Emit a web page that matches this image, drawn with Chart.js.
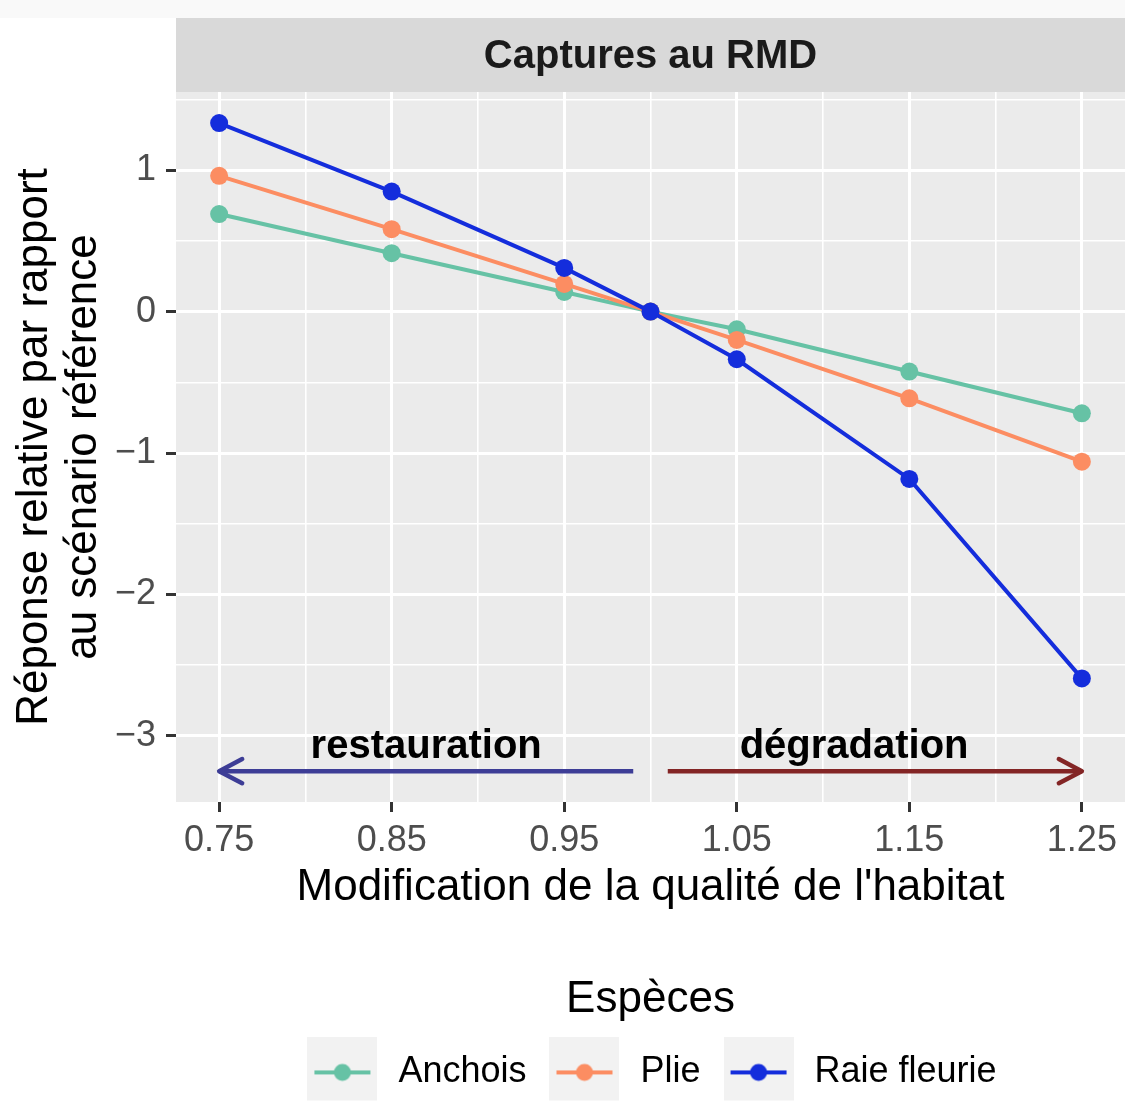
<!DOCTYPE html>
<html>
<head>
<meta charset="utf-8">
<script src="https://cdn.jsdelivr.net/npm/chart.js@4"></script>
<style>
  html, body { margin: 0; padding: 0; background: #ffffff; overflow: hidden; }
  canvas { display: block; }
</style>
</head>
<body>
<canvas id="chart" width="1125" height="1102"></canvas>
<script>
// habitat quality multipliers (x) and responses per species (y)
const habitat = [0.75, 0.85, 0.95, 1.00, 1.05, 1.15, 1.25];
const anchois = [0.69, 0.413, 0.139, 0, -0.125, -0.424, -0.719];
const plie = [0.96, 0.583, 0.196, 0, -0.2, -0.613, -1.061];
const raie = [1.333, 0.849, 0.309, 0, -0.337, -1.183, -2.594];
const speciesNames = ["Anchois", "Plie", "Raie fleurie"];

// axis ticks (majors get labels, the rest are minor grid lines)
const xTicks = [0.75, 0.80, 0.85, 0.90, 0.95, 1.00, 1.05, 1.10, 1.15, 1.20, 1.25];
const xMajor = [0.75, 0.85, 0.95, 1.05, 1.15, 1.25];
const yTicks = [-3, -2.5, -2, -1.5, -1, -0.5, 0, 0.5, 1, 1.5];
const yMajor = [-3, -2, -1, 0, 1];

// arrow annotations, in data units
const arrowLabels = ["restauration", "dégradation"];
const arrowFrom = [0.99, 1.01];
const arrowTo = [0.75, 1.25];
const arrowY = -3.25;
const labelX = [0.87, 1.118];
const labelY = -3.16;

const colors = ["#66C2A5", "#FC8D62", "#142DDC"];
const arrowColors = ["#3D3D96", "#832525"];
const FONT = "'Liberation Sans', Arial, sans-serif";

const isMajor = (list, v) => list.some(m => Math.abs(m - v) < 1e-6);
const fmtY = v => (v < 0 ? "\u2212" + Math.abs(v) : String(v));

const toPoints = ys => habitat.map((x, i) => ({ x: x, y: ys[i] }));

// legend keys: grey square with line + dot, like ggplot
function makeKey(color) {
  const c = document.createElement("canvas");
  c.width = 70;
  c.height = 70;
  const g = c.getContext("2d");
  g.fillStyle = "#F2F2F2";
  g.fillRect(0, 0, 70, 70);
  g.strokeStyle = color;
  g.lineWidth = 4;
  g.beginPath();
  g.moveTo(7, 35);
  g.lineTo(63, 35);
  g.stroke();
  g.fillStyle = color;
  g.beginPath();
  g.arc(35, 35, 8.5, 0, Math.PI * 2);
  g.fill();
  return c;
}
const keys = colors.map(makeKey);

const panelPlugin = {
  id: "panel",
  beforeDraw(chart) {
    const { ctx, chartArea } = chart;
    ctx.save();
    ctx.fillStyle = "#F9F9F9";
    ctx.fillRect(0, 0, chart.width, 18);
    ctx.fillStyle = "#D9D9D9";
    ctx.fillRect(chartArea.left, 18, chartArea.right - chartArea.left, chartArea.top - 18);
    ctx.fillStyle = "#EBEBEB";
    ctx.fillRect(chartArea.left, chartArea.top, chartArea.right - chartArea.left, chartArea.bottom - chartArea.top);
    ctx.restore();
  },
  afterDatasetsDraw(chart) {
    const { ctx } = chart;
    const xs = chart.scales.x;
    const ys = chart.scales.y;
    ctx.save();
    const yPix = ys.getPixelForValue(arrowY);
    arrowLabels.forEach((label, i) => {
      const x1 = xs.getPixelForValue(arrowFrom[i]);
      const x2 = xs.getPixelForValue(arrowTo[i]);
      const dir = x2 > x1 ? 1 : -1;
      ctx.strokeStyle = arrowColors[i];
      ctx.lineWidth = 4.5;
      ctx.lineCap = "butt";
      ctx.beginPath();
      ctx.moveTo(x1, yPix);
      ctx.lineTo(x2, yPix);
      ctx.stroke();
      const len = 26, ang = Math.PI / 6.5;
      ctx.lineCap = "round";
      ctx.lineJoin = "round";
      ctx.beginPath();
      ctx.moveTo(x2 - dir * len * Math.cos(ang), yPix - len * Math.sin(ang));
      ctx.lineTo(x2, yPix);
      ctx.lineTo(x2 - dir * len * Math.cos(ang), yPix + len * Math.sin(ang));
      ctx.stroke();

      ctx.fillStyle = "#000000";
      ctx.font = "bold 40px " + FONT;
      ctx.textAlign = "center";
      ctx.textBaseline = "alphabetic";
      ctx.fillText(label, xs.getPixelForValue(labelX[i]), ys.getPixelForValue(labelY));
    });
    ctx.restore();
  }
};

const chart = new Chart(document.getElementById("chart"), {
  type: "line",
  data: {
    datasets: [anchois, plie, raie].map((ys, i) => ({
      label: speciesNames[i],
      data: toPoints(ys),
      borderColor: colors[i],
      backgroundColor: colors[i],
      pointBackgroundColor: colors[i],
      pointBorderWidth: 0,
      pointRadius: 9,
      borderWidth: 4,
      tension: 0,
      order: 2 - i
    }))
  },
  options: {
    responsive: false,
    animation: false,
    devicePixelRatio: 1,
    events: [],
    layout: { autoPadding: false, padding: { top: 18, left: 0, right: 0, bottom: 1.6 } },
    scales: {
      x: {
        type: "linear",
        min: 0.725,
        max: 1.275,
        afterBuildTicks: scale => { scale.ticks = xTicks.map(v => ({ value: v })); },
        afterFit: scale => {
          scale.height = 110;
          scale.paddingLeft = 0;
          scale.paddingRight = 0;
        },
        border: { display: false },
        grid: {
          color: "#FFFFFF",
          lineWidth: c => (isMajor(xMajor, c.tick.value) ? 3 : 1.6),
          tickLength: 10,
          tickWidth: 3,
          tickColor: c => (isMajor(xMajor, c.tick.value) ? "#333333" : "rgba(0,0,0,0)")
        },
        ticks: {
          autoSkip: false,
          maxRotation: 0,
          padding: 7,
          color: "#4D4D4D",
          font: { family: FONT, size: 36 },
          callback: v => (isMajor(xMajor, v) ? v.toFixed(2) : "")
        },
        title: {
          display: true,
          text: "Modification de la qualité de l'habitat",
          color: "#000000",
          font: { family: FONT, size: 44, lineHeight: 1.1 },
          padding: { top: 0, bottom: 0 }
        }
      },
      y: {
        type: "linear",
        min: -3.468,
        max: 1.553,
        afterBuildTicks: scale => { scale.ticks = yTicks.map(v => ({ value: v })); },
        afterFit: scale => {
          scale.width = 176;
          scale.paddingTop = 0;
          scale.paddingBottom = 0;
        },
        border: { display: false },
        grid: {
          color: "#FFFFFF",
          lineWidth: c => (isMajor(yMajor, c.tick.value) ? 3 : 1.6),
          tickLength: 10,
          tickWidth: 3,
          tickColor: c => (isMajor(yMajor, c.tick.value) ? "#333333" : "rgba(0,0,0,0)")
        },
        ticks: {
          autoSkip: false,
          padding: 10,
          color: "#4D4D4D",
          font: { family: FONT, size: 36 },
          callback: v => (isMajor(yMajor, v) ? fmtY(v) : "")
        },
        title: {
          display: true,
          text: ["Réponse relative par rapport", "au scénario référence"],
          color: "#000000",
          font: { family: FONT, size: 44, lineHeight: 1.1 },
          padding: { top: 11, bottom: 0 }
        }
      }
    },
    plugins: {
      tooltip: { enabled: false },
      title: {
        display: true,
        text: "Captures au RMD",
        fullSize: false,
        color: "#1A1A1A",
        font: { family: FONT, size: 40, weight: "bold", lineHeight: 1.2 },
        padding: { top: 15, bottom: 11 }
      },
      legend: {
        display: true,
        position: "bottom",
        fullSize: false,
        title: {
          display: true,
          text: "Espèces",
          color: "#000000",
          font: { family: FONT, size: 44, lineHeight: 1.1 },
          padding: { top: 66, bottom: 8 }
        },
        labels: {
          usePointStyle: true,
          pointStyleWidth: 76,
          padding: 20,
          color: "#000000",
          font: { family: FONT, size: 36 },
          sort: (a, b) => a.datasetIndex - b.datasetIndex,
          generateLabels: ch => {
            const items = Chart.defaults.plugins.legend.labels.generateLabels(ch);
            items.forEach(it => { it.pointStyle = keys[it.datasetIndex]; });
            return items;
          }
        }
      }
    }
  },
  plugins: [panelPlugin]
});
</script>
</body>
</html>
